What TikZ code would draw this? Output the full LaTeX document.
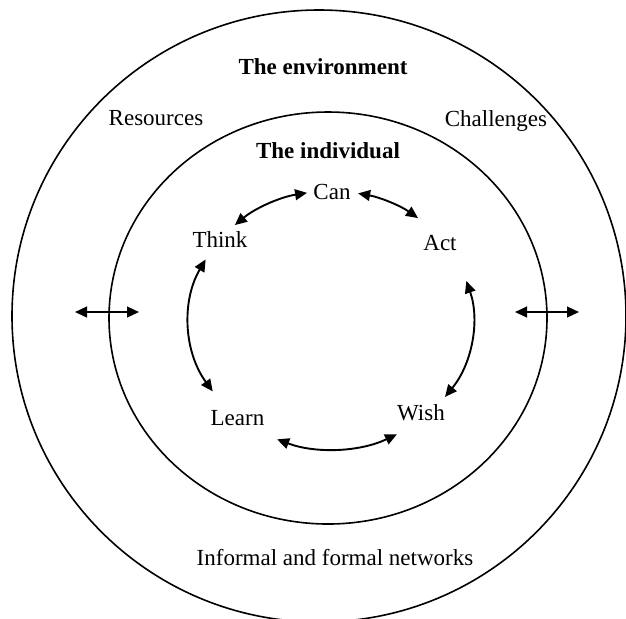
\documentclass[tikz,border=0pt]{standalone}
\usepackage{fontspec}
\setmainfont{Liberation Serif}
\usetikzlibrary{arrows.meta}
\begin{document}
\begin{tikzpicture}[x=0.5pt,y=-0.5pt,
  lbl/.style={anchor=base, inner sep=0pt, font=\fontsize{11.5}{13}\selectfont},
  blbl/.style={anchor=base, inner sep=0pt, font=\fontsize{11.5}{13}\selectfont\bfseries},
  ring/.style={line width=0.8pt},
  dbl/.style={line width=0.95pt, {Triangle[length=6pt,width=5.4pt]}-{Triangle[length=6pt,width=5.4pt]}}]
\useasboundingbox[fill=white] (0,0) rectangle (626,618);
\begin{scope}
\clip (0,0) rectangle (626,618);
\draw[ring] (319,316) ellipse [x radius=153.5pt, y radius=153pt];
\end{scope}
\draw[ring] (328,318) ellipse [x radius=109.5pt, y radius=103pt];

\node[blbl] (env) at (323,74) {The environment};
\node[lbl] (res) at (156,125) {Resources};
\node[lbl] (cha) at (496,126) {Challenges};
\node[blbl] (ind) at (328,158) {The individual};
\node[lbl] (can) at (332,199) {Can};
\node[lbl] (think) at (220,247) {Think};
\node[lbl] (act) at (440,250) {Act};
\node[lbl] (learn) at (237.5,425) {Learn};
\node[lbl] (wish) at (421,420) {Wish};
\node[lbl] (net) at (335,565) {Informal and formal networks};

\coordinate (la) at (75,312);
\coordinate (lb) at (139,312);
\coordinate (ra) at (515,312);
\coordinate (rb) at (579,312);
\draw[dbl] (la) -- (lb);
\draw[dbl] (ra) -- (rb);

\coordinate (ec) at (331,320);
\coordinate (tc) at ([shift={(132.6:71pt and 64.5pt)}]ec);
\coordinate (ca) at ([shift={(79:71pt and 64.5pt)}]ec);
\coordinate (aw) at ([shift={(17.6:71pt and 64.5pt)}]ec);
\coordinate (wl) at ([shift={(-62.3:71pt and 64.5pt)}]ec);
\coordinate (lt) at ([shift={(-146.4:71pt and 64.5pt)}]ec);
\draw[dbl] (tc) arc[start angle=132.6, end angle=99.7, x radius=71pt, y radius=64.5pt];
\draw[dbl] (ca) arc[start angle=79, end angle=52.2, x radius=71pt, y radius=64.5pt];
\draw[dbl] (aw) arc[start angle=17.6, end angle=-36.6, x radius=71pt, y radius=64.5pt];
\draw[dbl] (wl) arc[start angle=-62.3, end angle=-112.3, x radius=71pt, y radius=64.5pt];
\draw[dbl] (lt) arc[start angle=-146.4, end angle=-208, x radius=71pt, y radius=64.5pt];
\end{tikzpicture}
\end{document}
